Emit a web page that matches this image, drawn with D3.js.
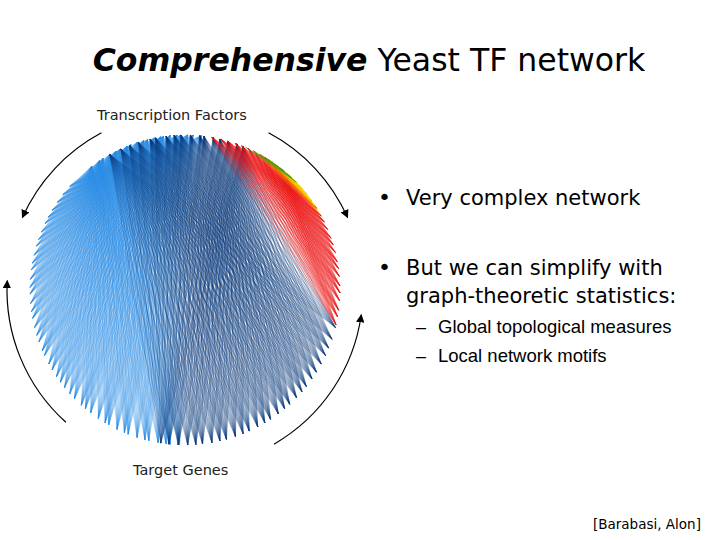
<!DOCTYPE html>
<html><head><meta charset="utf-8">
<script src="https://cdn.jsdelivr.net/npm/d3@7"></script>
<style>body{margin:0;background:#fff}svg{display:block}</style>
</head><body>
<script>
// Network groups: TF angles (deg, svg convention) and target angles; each TF links to each target
const groupNames = ["lightblue","darkblue","red","orange","yellow","green"];
const groupColors = ["#2a8ae4","#0c3b7c","#ee1010","#ff8c00","#f0e000","#3a9a20"];
const tfAngles = [
  [233,236.5,238,241,243.5,245,248,249.5,252,254.5,256,258.5,261,262,264.5,267,268.5,271,273,276],
  [241,245.5,249,252.5,257,259,263,266,268.5,272,275.5,277,280.5,283,286,289.5,292],
  [280,283.5,286,289,291.5,294,296.5,299,301,304,306.5,309],
  [296,299,302.5,305,308,311],
  [303,306,309.5,313,316],
  [293,296.5,299.5,302]
];
const targetAngles = [
  [92,95.5,97,100,103.5,105,108,111.5,113,116,119.5,121,124,127.5,130,132,135.5,138,141,143.5,146,149,151.5,155,157,160.5,163,166,169.5,172,175,178.5,181,184,187.5,190,193,196.5,199,202,205.5,208,211,214.5,218,222],
  [14,18.5,22,25,28.5,32,35,38.5,41,44,47.5,50,53,56.5,59,62,65.5,68,71,74.5,77,80,83.5,86,89,92.5,96,99],
  [328,331.5,334,337,340.5,343,346,349.5,352,355,358.5,1,4,7.5,10,13],
  [316,319.5,322,325,328.5,331],
  [318,321,324.5,327],
  [310,313.5,316]
];
const opac = [0.4,0.55,0.65,0.8,0.8,0.8];

const W=720,H=540, cx=185, cy=290, R=155;
const svg=d3.select("body").append("svg").attr("width",W).attr("height",H);
const rad=d3.scaleLinear().domain([0,360]).range([0,2*Math.PI]);
const px=a=>cx+R*Math.cos(rad(a)), py=a=>cy+R*Math.sin(rad(a));

const edges=[];
tfAngles.forEach((tfs,g)=>tfs.forEach(s=>targetAngles[g].forEach(t=>edges.push({g,s,t}))));
svg.append("g").selectAll("line").data(edges).join("line")
  .attr("x1",d=>px(d.s)).attr("y1",d=>py(d.s)).attr("x2",d=>px(d.t)).attr("y2",d=>py(d.t))
  .attr("stroke",d=>groupColors[d.g]).attr("stroke-width",0.5).attr("stroke-opacity",d=>opac[d.g]);

// arrows
const defs=svg.append("defs");
defs.append("marker").attr("id","ah").attr("viewBox","0 0 10 10").attr("refX",9).attr("refY",5)
 .attr("markerWidth",7).attr("markerHeight",7).attr("orient","auto-start-reverse")
 .append("path").attr("d","M0,0L10,5L0,10z").attr("fill","#000");
const AR=178;
const arc=(a0,a1)=>{const p=d3.path();p.arc(cx,cy,AR,rad(a0),rad(a1),a1<a0);return p.toString();};
[[242,204],[298,336],[132,183],[60,8]].forEach(([a0,a1])=>{
  svg.append("path").attr("d",arc(a0,a1)).attr("fill","none").attr("stroke","#000").attr("stroke-width",1.2).attr("marker-end","url(#ah)");
});

const f="DejaVu Sans, Verdana, sans-serif";
const title=svg.append("text").attr("x",369).attr("y",71).attr("text-anchor","middle").attr("font-family",f).attr("font-size",31.5);
title.append("tspan").attr("font-weight","bold").attr("font-style","italic").text("Comprehensive");
title.append("tspan").text(" Yeast TF network");
svg.append("text").attr("x",97).attr("y",120).attr("font-family",f).attr("font-size",14.5).attr("fill","#222").text("Transcription Factors");
svg.append("text").attr("x",133).attr("y",475).attr("font-family",f).attr("font-size",14.5).attr("fill","#222").text("Target Genes");
const bt=(x,y,s,fs,ff)=>svg.append("text").attr("x",x).attr("y",y).attr("font-family",ff||f).attr("font-size",fs).text(s);
bt(378,205,"•",22); bt(406,205,"Very complex network",21);
bt(378,275,"•",22); bt(406,275,"But we can simplify with",21); bt(406,303,"graph-theoretic statistics:",21);
const f2="Liberation Sans, Arial, sans-serif";
bt(416,333,"–",18,f2); bt(438,333,"Global topological measures",18.5,f2);
bt(416,362,"–",18,f2); bt(438,362,"Local network motifs",18.5,f2);
bt(593,529,"[Barabasi, Alon]",13.5);
</script>
</body></html>
